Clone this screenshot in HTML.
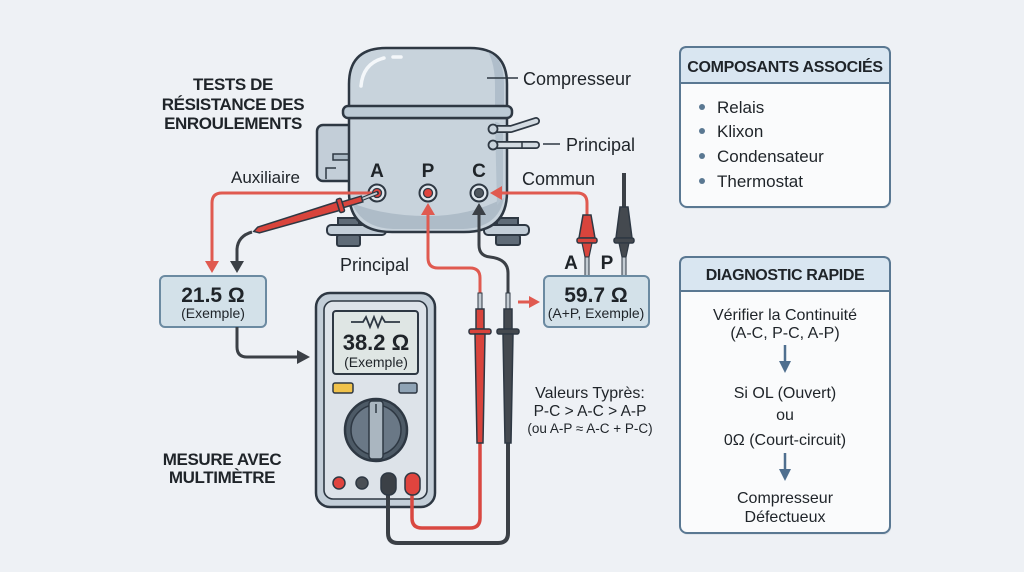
<!DOCTYPE html>
<html><head><meta charset="utf-8">
<style>
html,body{margin:0;padding:0;background:#eef1f5;}
svg{display:block;}
text{font-family:"Liberation Sans",Arial,sans-serif;fill:#1f2429;}
</style></head>
<body>
<svg width="1024" height="572" viewBox="0 0 1024 572" xmlns="http://www.w3.org/2000/svg">
<rect width="1024" height="572" fill="#eef1f5"/>

<!-- Title -->
<g font-weight="bold" font-size="17" letter-spacing="-0.4" text-anchor="middle">
<text x="233" y="90">TESTS DE</text>
<text x="233" y="110">RÉSISTANCE DES</text>
<text x="233" y="129">ENROULEMENTS</text>
<text x="222" y="465">MESURE AVEC</text>
<text x="222" y="483">MULTIMÈTRE</text>
</g>

<!-- Compressor: bracket -->
<rect x="317" y="125" width="40" height="56" rx="6" fill="#c3ced8" stroke="#2e3843" stroke-width="2.5"/>
<rect x="333" y="154" width="17" height="6" fill="#aab8c4" stroke="#2e3843" stroke-width="1.5"/>
<path d="M326,179 V168 H336" fill="none" stroke="#2e3843" stroke-width="1.5"/>

<!-- feet -->
<rect x="338" y="218" width="21" height="8" fill="#5f6b77" stroke="#2e3843" stroke-width="2"/>
<rect x="327" y="225" width="59" height="10" rx="4" fill="#c3ced8" stroke="#2e3843" stroke-width="2"/>
<rect x="337" y="235" width="23" height="11" rx="2" fill="#5f6b77" stroke="#2e3843" stroke-width="2"/>
<rect x="497" y="218" width="21" height="8" fill="#5f6b77" stroke="#2e3843" stroke-width="2"/>
<rect x="484" y="225" width="45" height="10" rx="4" fill="#c3ced8" stroke="#2e3843" stroke-width="2"/>
<rect x="496" y="235" width="24" height="10" rx="2" fill="#5f6b77" stroke="#2e3843" stroke-width="2"/>

<!-- body -->
<path d="M349,118 V192 Q349,232 392,232 H464 Q507,232 507,192 V118 Z" fill="#c8d3dc" stroke="#2e3843" stroke-width="2.5"/>
<path d="M352,203 Q362,228 393,229 H463 Q498,228 504,198 Q470,216 428,216 Q384,216 352,203 Z" fill="#aebcc8"/>
<path d="M495,122 Q503,122 503,135 V190 Q503,200 497,205 Z" fill="#b4c2ce"/>
<!-- dome -->
<path d="M349,107 V84 Q349,48 386,48 H470 Q507,48 507,84 V107 Z" fill="#c8d3dc" stroke="#2e3843" stroke-width="2.5"/>
<path d="M488,52 Q504,58 504,84 V105 H495 V86 Q495,64 488,52 Z" fill="#b0becb"/>
<path d="M361,86 Q363,63 384,58" fill="none" stroke="#f4f7fa" stroke-width="3.5" stroke-linecap="round"/>
<path d="M393,57 H401" fill="none" stroke="#f4f7fa" stroke-width="3.5" stroke-linecap="round"/>
<!-- band -->
<rect x="343" y="106" width="169" height="12" rx="5" fill="#bccad5" stroke="#2e3843" stroke-width="2.5"/>
<!-- pipes -->
<path d="M493,129 H511 L536,121" fill="none" stroke="#2e3843" stroke-width="8" stroke-linecap="round" stroke-linejoin="round"/>
<path d="M493,129 H511 L536,121" fill="none" stroke="#d3dbe2" stroke-width="4.5" stroke-linecap="round" stroke-linejoin="round"/>
<path d="M493,145 H536" fill="none" stroke="#2e3843" stroke-width="8" stroke-linecap="round"/>
<path d="M493,145 H536" fill="none" stroke="#d3dbe2" stroke-width="4.5" stroke-linecap="round"/>
<line x1="522" y1="141" x2="522" y2="149" stroke="#2e3843" stroke-width="1.5"/>
<circle cx="493" cy="129" r="4.5" fill="#c8d3dc" stroke="#2e3843" stroke-width="1.8"/>
<circle cx="493" cy="145" r="4.5" fill="#c8d3dc" stroke="#2e3843" stroke-width="1.8"/>

<!-- terminals -->
<circle cx="377" cy="193" r="8.5" fill="#dfe6ec" stroke="#2e3843" stroke-width="2"/>
<circle cx="377" cy="193" r="4.5" fill="#e0453e" stroke="#2e3843" stroke-width="1.3"/>
<circle cx="428" cy="193" r="8.5" fill="#dfe6ec" stroke="#2e3843" stroke-width="2"/>
<circle cx="428" cy="193" r="4.5" fill="#e0453e" stroke="#2e3843" stroke-width="1.3"/>
<circle cx="479" cy="193" r="8.5" fill="#dfe6ec" stroke="#2e3843" stroke-width="2"/>
<circle cx="479" cy="193" r="4.5" fill="#50585f" stroke="#2e3843" stroke-width="1.3"/>
<g font-weight="bold" font-size="19" text-anchor="middle">
<text x="377" y="177">A</text>
<text x="428" y="177">P</text>
<text x="479" y="177">C</text>
</g>

<!-- labels around compressor -->
<g font-size="18" fill="#2a2f35">
<text x="523" y="85">Compresseur</text>
<text x="566" y="151">Principal</text>
<text x="522" y="185">Commun</text>
<text x="340" y="271">Principal</text>
</g>
<text x="231" y="183" font-size="17">Auxiliaire</text>
<line x1="487" y1="78" x2="518" y2="78" stroke="#2e3843" stroke-width="1.5"/>
<line x1="543" y1="144" x2="560" y2="144" stroke="#2e3843" stroke-width="1.5"/>

<!-- red line from A to left box -->
<path d="M372,193 H222 Q212,193 212,203 V262" fill="none" stroke="#e05a50" stroke-width="3"/>
<polygon points="205,261 219,261 212,273" fill="#e05a50"/>

<!-- probe at A -->
<line x1="377" y1="193" x2="362" y2="199" stroke="#2e3843" stroke-width="4" stroke-linecap="round"/>
<line x1="377" y1="193" x2="362" y2="199" stroke="#c4ccd3" stroke-width="2"/>
<g transform="translate(362,199) rotate(163.3)">
<rect x="0" y="-3" width="20" height="6" fill="#d9443c" stroke="#2e3843" stroke-width="1.5"/>
<rect x="20" y="-7" width="5" height="14" rx="1.5" fill="#d9443c" stroke="#2e3843" stroke-width="1.5"/>
<path d="M25,-4.5 L108,-3 L113,0 L108,3 L25,4.5 Z" fill="#d9443c" stroke="#2e3843" stroke-width="1.5"/>
</g>
<path d="M252,232 Q238,236 237,249 V262" fill="none" stroke="#3b4046" stroke-width="3"/>
<polygon points="230,261 244,261 237,273" fill="#3b4046"/>

<!-- box 21.5 -->
<rect x="160" y="276" width="106" height="51" rx="5" fill="#d3e1e9" stroke="#6b8aa1" stroke-width="2"/>
<text x="213" y="302" font-size="21" font-weight="bold" text-anchor="middle">21.5 Ω</text>
<text x="213" y="318" font-size="14" text-anchor="middle" fill="#2a3036">(Exemple)</text>

<path d="M237,327 V347 Q237,357 247,357 H298" fill="none" stroke="#3b4046" stroke-width="3"/>
<polygon points="297,350 297,364 310,357" fill="#3b4046"/>

<!-- Multimeter -->
<rect x="316" y="293" width="119" height="214" rx="14" fill="#c3ced8" stroke="#2e3843" stroke-width="2.5"/>
<rect x="324" y="301" width="103" height="198" rx="9" fill="#dde3e9" stroke="#2e3843" stroke-width="1.6"/>
<rect x="333" y="311" width="85" height="63" rx="3" fill="#dfe6e4" stroke="#2e3843" stroke-width="2"/>
<path d="M351,322 H363 L366,317 L370,327 L374,317 L378,327 L382,317 L385,322 H400" fill="none" stroke="#2e3843" stroke-width="1.8"/>
<text x="376" y="350" font-size="22" font-weight="bold" text-anchor="middle">38.2 Ω</text>
<text x="376" y="367" font-size="14" text-anchor="middle" fill="#2a3036">(Exemple)</text>
<rect x="333" y="383" width="20" height="10" rx="2" fill="#f0c24b" stroke="#2e3843" stroke-width="1.5"/>
<rect x="399" y="383" width="18" height="10" rx="2" fill="#8fa3b5" stroke="#2e3843" stroke-width="1.5"/>
<circle cx="376" cy="430" r="31" fill="#4d5a66" stroke="#2e3843" stroke-width="2.5"/>
<circle cx="376" cy="430" r="25" fill="#6a7886" stroke="#2e3843" stroke-width="1.5"/>
<rect x="369" y="401" width="14" height="58" rx="3" fill="#aab6c0" stroke="#2e3843" stroke-width="1.5"/>
<line x1="376" y1="404" x2="376" y2="413" stroke="#2e3843" stroke-width="1.5"/>
<circle cx="339" cy="483" r="6" fill="#e0443e" stroke="#2e3843" stroke-width="1.5"/>
<circle cx="362" cy="483" r="6" fill="#4a4f55" stroke="#2e3843" stroke-width="1.5"/>

<!-- wires from meter -->
<path d="M508,443 V533 Q508,543 498,543 H398 Q388,543 388,533 V494" fill="none" stroke="#3b4046" stroke-width="4"/>
<path d="M480,443 V518 Q480,528 470,528 H422 Q412,528 412,518 V494" fill="none" stroke="#d94841" stroke-width="3.5"/>
<rect x="381" y="473" width="15" height="22" rx="7" fill="#3b4046" stroke="#2e3843" stroke-width="1.5"/>
<rect x="405" y="473" width="15" height="22" rx="7" fill="#e0443e" stroke="#2e3843" stroke-width="1.5"/>

<!-- lines from P and C to meter probes -->
<polygon points="421,215 435,215 428,203" fill="#e05a50"/>
<path d="M428,214 V258 Q428,268 438,268 H470 Q480,268 480,278 V294" fill="none" stroke="#e05a50" stroke-width="3"/>
<polygon points="472,215 486,215 479,203" fill="#3b4046"/>
<path d="M479,214 V245 Q479,256 490,257 Q508,259 508,273 V294" fill="none" stroke="#3b4046" stroke-width="3"/>

<!-- meter probes -->
<rect x="478" y="293" width="4" height="16" fill="#c4ccd3" stroke="#2e3843" stroke-width="1"/>
<rect x="476" y="309" width="8" height="20" fill="#d9443c" stroke="#2e3843" stroke-width="1.5"/>
<rect x="469" y="329" width="22" height="5" rx="2" fill="#d9443c" stroke="#2e3843" stroke-width="1.5"/>
<path d="M475,334 L485,334 L483,443 L477,443 Z" fill="#d9443c" stroke="#2e3843" stroke-width="1.5"/>
<rect x="506" y="293" width="4" height="16" fill="#c4ccd3" stroke="#2e3843" stroke-width="1"/>
<rect x="504" y="309" width="8" height="20" fill="#44494f" stroke="#2e3843" stroke-width="1.5"/>
<rect x="497" y="329" width="22" height="5" rx="2" fill="#44494f" stroke="#2e3843" stroke-width="1.5"/>
<path d="M503,334 L513,334 L511,443 L505,443 Z" fill="#44494f" stroke="#2e3843" stroke-width="1.5"/>

<!-- red line to C from right -->
<polygon points="490,193 502,186 502,200" fill="#e05a50"/>
<path d="M501,193 H577 Q587,193 587,203 V217" fill="none" stroke="#e05a50" stroke-width="3"/>
<path d="M624,173 V208" fill="none" stroke="#3b4046" stroke-width="4"/>

<!-- right probes -->
<path d="M583,215 L591,215 L595,238 L579,238 Z" fill="#d9443c" stroke="#2e3843" stroke-width="1.5"/>
<rect x="577" y="238" width="20" height="5" rx="2" fill="#d9443c" stroke="#2e3843" stroke-width="1.5"/>
<path d="M582,243 L592,243 L589,257 L585,257 Z" fill="#d9443c" stroke="#2e3843" stroke-width="1.2"/>
<rect x="585" y="257" width="4" height="20" fill="#c4ccd3" stroke="#2e3843" stroke-width="1"/>
<path d="M620,207 L628,207 L632,238 L616,238 Z" fill="#44494f" stroke="#2e3843" stroke-width="1.5"/>
<rect x="614" y="238" width="20" height="5" rx="2" fill="#44494f" stroke="#2e3843" stroke-width="1.5"/>
<path d="M619,243 L629,243 L626,257 L622,257 Z" fill="#44494f" stroke="#2e3843" stroke-width="1.2"/>
<rect x="622" y="257" width="4" height="20" fill="#c4ccd3" stroke="#2e3843" stroke-width="1"/>
<g font-weight="bold" font-size="19" text-anchor="middle">
<text x="571" y="269">A</text>
<text x="607" y="269">P</text>
</g>

<!-- box 59.7 -->
<rect x="544" y="276" width="105" height="51" rx="5" fill="#d3e1e9" stroke="#6b8aa1" stroke-width="2"/>
<text x="596" y="302" font-size="21" font-weight="bold" text-anchor="middle">59.7 Ω</text>
<text x="596" y="318" font-size="14" text-anchor="middle" fill="#2a3036">(A+P, Exemple)</text>
<line x1="518" y1="302" x2="531" y2="302" stroke="#e05a50" stroke-width="3"/>
<polygon points="529,296 529,308 540,302" fill="#e05a50"/>

<!-- Valeurs text -->
<g text-anchor="middle" fill="#1f2429">
<text x="590" y="398" font-size="16">Valeurs Typrès:</text>
<text x="590" y="416" font-size="15.5">P-C &gt; A-C &gt; A-P</text>
<text x="590" y="433" font-size="13.5">(ou A-P ≈ A-C + P-C)</text>
</g>

<!-- Panel 1 -->
<rect x="681" y="49" width="210" height="160" rx="7" fill="#dfe4ea"/>
<rect x="680" y="47" width="210" height="160" rx="7" fill="#fafbfc" stroke="#5a7892" stroke-width="2"/>
<path d="M687,47 H883 Q890,47 890,54 V83 H680 V54 Q680,47 687,47 Z" fill="#d9e6f1" stroke="#5a7892" stroke-width="2"/>
<text x="785" y="72" font-size="16" font-weight="bold" letter-spacing="-0.3" text-anchor="middle">COMPOSANTS ASSOCIÉS</text>
<g fill="#5a7892">
<circle cx="702" cy="107" r="3"/>
<circle cx="702" cy="131" r="3"/>
<circle cx="702" cy="156" r="3"/>
<circle cx="702" cy="181" r="3"/>
</g>
<g font-size="17">
<text x="717" y="113">Relais</text>
<text x="717" y="137">Klixon</text>
<text x="717" y="162">Condensateur</text>
<text x="717" y="187">Thermostat</text>
</g>

<!-- Panel 2 -->
<rect x="681" y="259" width="210" height="276" rx="7" fill="#dfe4ea"/>
<rect x="680" y="257" width="210" height="276" rx="7" fill="#fafbfc" stroke="#5a7892" stroke-width="2"/>
<path d="M687,257 H883 Q890,257 890,264 V291 H680 V264 Q680,257 687,257 Z" fill="#d9e6f1" stroke="#5a7892" stroke-width="2"/>
<text x="785" y="280" font-size="16" font-weight="bold" letter-spacing="-0.4" text-anchor="middle">DIAGNOSTIC RAPIDE</text>
<g font-size="16" text-anchor="middle">
<text x="785" y="320">Vérifier la Continuité</text>
<text x="785" y="338">(A-C, P-C, A-P)</text>
<text x="785" y="398">Si OL (Ouvert)</text>
<text x="785" y="420">ou</text>
<text x="785" y="445">0Ω (Court-circuit)</text>
<text x="785" y="503">Compresseur</text>
<text x="785" y="522">Défectueux</text>
</g>
<line x1="785" y1="345" x2="785" y2="363" stroke="#4f6f8f" stroke-width="2.5"/>
<polygon points="779,361 791,361 785,373" fill="#4f6f8f"/>
<line x1="785" y1="453" x2="785" y2="471" stroke="#4f6f8f" stroke-width="2.5"/>
<polygon points="779,469 791,469 785,481" fill="#4f6f8f"/>
</svg>
</body></html>
